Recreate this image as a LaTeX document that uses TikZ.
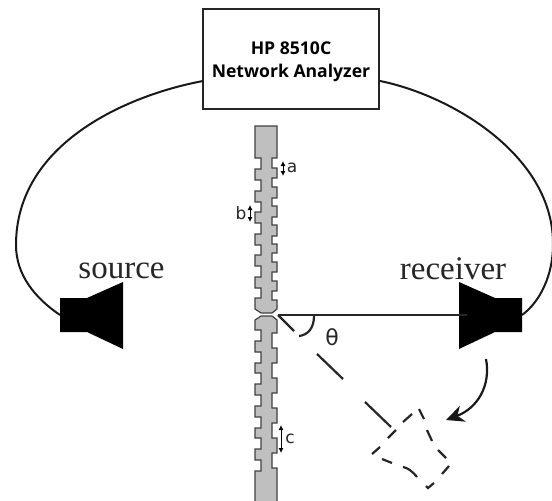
\documentclass[tikz,border=0pt]{standalone}
\usepackage{fontspec}
\setmainfont{Liberation Serif}
\setsansfont{DejaVu Sans}
\newfontfamily\boxfont{Open Sans}
\usepackage{tikz}
\usetikzlibrary{arrows.meta, positioning, calc}
\colorlet{wallgray}{black!25}

\begin{document}
\begin{tikzpicture}[x=1pt, y=-1pt,
  analyzer/.style={rectangle, draw=black!85, line width=2.5pt, minimum width=176pt, minimum height=100pt, inner sep=0pt, align=center, font=\boxfont\bfseries\fontsize{17.6}{23}\selectfont},
  wall/.style={fill=wallgray, draw=black!75, line width=1.2pt},
  cable/.style={draw=black!90, line width=2pt},
  horn/.style={fill=black, draw=none},
  ghost/.style={draw=black!85, line width=2.2pt},
  sizelabel/.style={font=\sffamily\fontsize{17}{17}\selectfont, text=black!85, inner sep=0pt},
  sizearrow/.style={{Latex[length=5pt,width=5pt]}-{Latex[length=5pt,width=5pt]}, line width=0.9pt},
  hornlabel/.style={font=\fontsize{33}{33}\selectfont, text=black!85, inner sep=0pt}]
\useasboundingbox (0,0) rectangle (552,501);

% Analyzer

\node [analyzer] (analyzer) at (291,59) {\rule{0pt}{19pt}HP 8510C\\Network Analyzer};

% Wall

\path [wall] (255,126) -- (277,126) -- (277,158) -- (272,158) -- (272,168) -- (277,168) -- (277,178) -- (272,178) -- (272,187) -- (277,187) -- (277,198) -- (272,198) -- (272,206) -- (277,206) -- (277,217) -- (272,217) -- (272,225) -- (277,225) -- (277,236) -- (272,236) -- (272,244) -- (277,244) -- (277,253) -- (272,253) -- (272,262) -- (277,262) -- (277,272) -- (272,272) -- (272,281) -- (277,281) -- (277,291) -- (272,291) -- (272,300) -- (277,300) -- (277,309) -- (272,313) -- (261,313) -- (255,309) -- (255,298) -- (261,298) -- (261,288) -- (255,288) -- (255,277) -- (261,277) -- (261,266) -- (255,266) -- (255,255) -- (261,255) -- (261,245) -- (255,245) -- (255,234) -- (261,234) -- (261,223) -- (255,223) -- (255,212) -- (261,212) -- (261,202) -- (255,202) -- (255,191) -- (261,191) -- (261,180) -- (255,180) -- (255,169) -- (261,169) -- (261,158) -- (255,158) -- cycle;

\path [wall] (261,316) -- (272,316) -- (277,320) -- (277,333) -- (272,333) -- (272,348) -- (277,348) -- (277,363) -- (272,363) -- (272,378) -- (277,378) -- (277,393) -- (272,393) -- (272,408) -- (277,408) -- (277,423) -- (272,423) -- (272,438) -- (277,438) -- (277,453) -- (272,453) -- (272,468) -- (277,468) -- (277,503) -- (255,503) -- (255,471) -- (261,471) -- (261,460) -- (255,460) -- (255,449) -- (261,449) -- (261,438) -- (255,438) -- (255,428) -- (261,428) -- (261,417) -- (255,417) -- (255,406) -- (261,406) -- (261,395) -- (255,395) -- (255,384) -- (261,384) -- (261,373) -- (255,373) -- (255,363) -- (261,363) -- (261,352) -- (255,352) -- (255,341) -- (261,341) -- (261,330) -- (255,330) -- (255,320) -- cycle;

% Horns

\path [horn] (60,298) -- (87,298) -- (123,282) -- (123,349) -- (87,332) -- (60,332) -- cycle;
\path [horn] (522,298) -- (495,298) -- (459,282) -- (459,349) -- (495,332) -- (522,332) -- cycle;

\node [hornlabel, anchor=base] (source) at (121.5,278) {source};
\node [hornlabel, anchor=base] (receiver) at (453,279) {receiver};

\coordinate (analyzerleft) at (203,81);
\coordinate (analyzerright) at (380,81);
\coordinate (sourceback) at (60,315);
\coordinate (receiverback) at (522,315);
\coordinate (slit) at (278,315);
\coordinate (receiverfront) at (467,315);

% Cables

\draw [cable] (analyzerleft) .. controls (128,95) and (16,143) .. (16,245) .. controls (16,275) and (35,298) .. (sourceback);
\draw [cable] (analyzerright) .. controls (450,95) and (554,155) .. (553,245) .. controls (553,275) and (540,302) .. (receiverback);

% Beams

\draw [ghost] (slit) -- (receiverfront);
\draw [ghost] (slit) -- (294,331);
\draw [ghost] (317,354) -- (343,379);
\draw [ghost] (365,402) -- (391,427);
\draw [ghost] (314,316) .. controls (314,328) and (308,335) .. (299,336);
\node [sizelabel, font=\sffamily\fontsize{22}{22}\selectfont] (theta) at (332,337) {θ};

% Moved horn

\draw [ghost] (403,422) -- (412,414);
\draw [ghost] (419,409) -- (424,419);
\draw [ghost] (427,430) -- (432,441);
\draw [ghost] (438,450) -- (446,458);
\draw [ghost] (449,466) -- (442,474);
\draw [ghost] (434,483) -- (428,488) -- (426,486);
\draw [ghost] (417,477) .. controls (412,471) and (408,468) .. (403,467);
\draw [ghost] (392,463) -- (382,459);
\draw [ghost] (372,454) -- (380,447);
\draw [ghost] (388,438) -- (396,430);

\coordinate (swingstart) at (486,359);
\coordinate (swingend) at (446,420);
\draw [cable, line width=2.2pt, -{Stealth[length=18pt, width=17pt]}] (swingstart) .. controls (491,385) and (478,408) .. (swingend);

% Sizes

\draw [sizearrow] (283,161) -- (283,176);
\node [sizelabel] (sizea) at (292,168) {a};
\draw [sizearrow] (250,205) -- (250,222);
\node [sizelabel] (sizeb) at (241,213) {b};
\draw [sizearrow] (281,425) -- (281,453);
\node [sizelabel] (sizec) at (290,439) {c};

\end{tikzpicture}
\end{document}
